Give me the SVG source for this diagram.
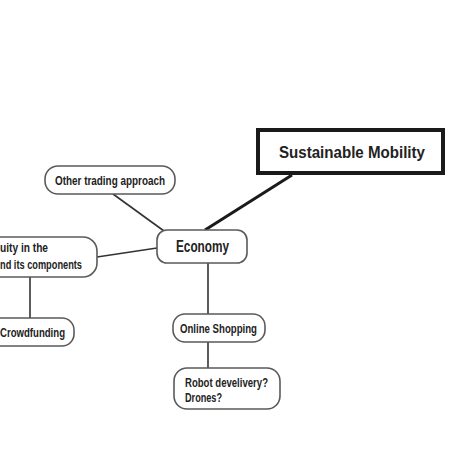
<svg xmlns="http://www.w3.org/2000/svg" width="450" height="450" viewBox="0 0 450 450">
<style>
.box{fill:#fff;stroke:#5a5a5a;stroke-width:1.6}
.t{font-family:"Liberation Sans",Arial,sans-serif;font-weight:bold;fill:#222}
.s{font-size:12.5px}
.ln{stroke:#333;stroke-width:1.6;fill:none}
</style>
<rect width="450" height="450" fill="#fff"/>
<g id="connectors">
<line class="ln" x1="292" y1="175" x2="205" y2="230" style="stroke-width:3;stroke:#1a1a1a"/>
<line class="ln" x1="113" y1="194" x2="164" y2="231"/>
<line class="ln" x1="97" y1="257" x2="157" y2="248"/>
<line class="ln" x1="30" y1="277" x2="30" y2="318"/>
<line class="ln" x1="208" y1="263" x2="208" y2="314"/>
<line class="ln" x1="208" y1="342" x2="208" y2="368"/>
</g>
<g id="sustainable">
<rect x="258" y="130" width="185" height="43" fill="#fff" stroke="#1a1a1a" stroke-width="4"/>
<text class="t" x="279" y="158" font-size="16.5" textLength="146" lengthAdjust="spacingAndGlyphs">Sustainable Mobility</text>
</g>
<g id="economy">
<rect class="box" x="157" y="230" width="90" height="33" rx="10"/>
<text class="t" x="176" y="252" font-size="16" textLength="53" lengthAdjust="spacingAndGlyphs">Economy</text>
</g>
<g id="other">
<rect class="box" x="45" y="166" width="130" height="28" rx="13"/>
<text class="t s" x="55" y="184.5" textLength="110" lengthAdjust="spacingAndGlyphs">Other trading approach</text>
</g>
<g id="equity">
<rect class="box" x="-20" y="237" width="117" height="40" rx="14"/>
<text class="t s" x="0" y="252" textLength="48" lengthAdjust="spacingAndGlyphs">uity in the</text>
<text class="t s" x="0" y="268.5" textLength="82" lengthAdjust="spacingAndGlyphs">nd its components</text>
</g>
<g id="crowdfunding">
<rect class="box" x="-20" y="318" width="94" height="28" rx="12"/>
<text class="t s" x="0" y="336.5" textLength="65" lengthAdjust="spacingAndGlyphs">Crowdfunding</text>
</g>
<g id="online">
<rect class="box" x="173" y="314" width="92" height="28" rx="12"/>
<text class="t s" x="180" y="332.5" textLength="77" lengthAdjust="spacingAndGlyphs">Online Shopping</text>
</g>
<g id="robot">
<rect class="box" x="174" y="368" width="106" height="41" rx="13"/>
<text class="t s" x="185" y="386.5" textLength="83" lengthAdjust="spacingAndGlyphs">Robot develivery?</text>
<text class="t s" x="185" y="401.5" textLength="37" lengthAdjust="spacingAndGlyphs">Drones?</text>
</g>
</svg>
